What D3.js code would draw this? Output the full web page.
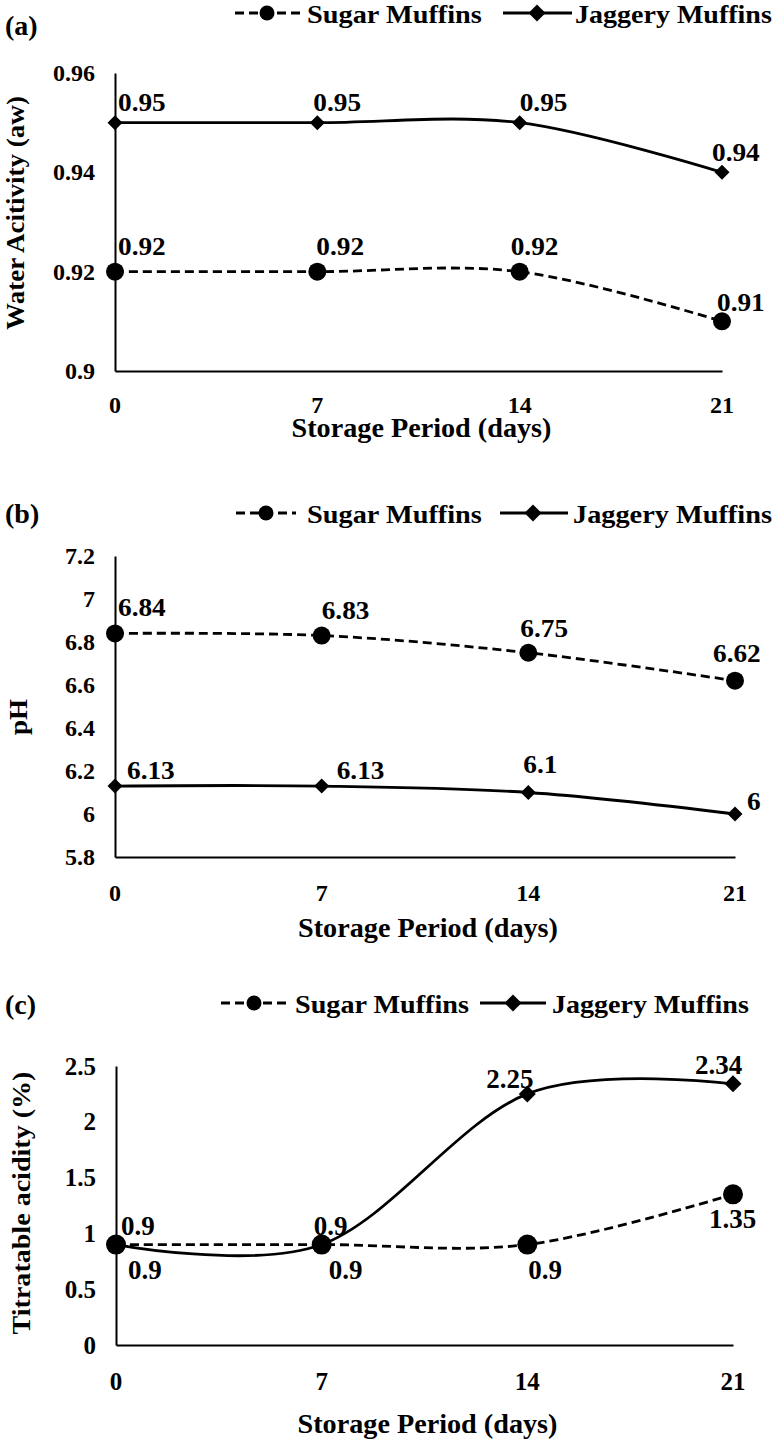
<!DOCTYPE html>
<html><head><meta charset="utf-8">
<script src="https://cdn.jsdelivr.net/npm/d3@7"></script>
<style>body{margin:0;background:#fff}svg{display:block}</style>
</head><body>
<svg id="chart" width="774" height="1440"></svg>
<script>
// ---------- data ----------
const days = [0, 7, 14, 21];
const xTickLabels = ["0", "7", "14", "21"];
const seriesNames = ["Sugar Muffins", "Jaggery Muffins"];
const sugarAw = [0.92, 0.92, 0.92, 0.91];
const jaggeryAw = [0.95, 0.95, 0.95, 0.94];
const awTicks = [0.9, 0.92, 0.94, 0.96];
const sugarPH = [6.84, 6.83, 6.75, 6.62];
const jaggeryPH = [6.13, 6.13, 6.1, 6];
const phTicks = [5.8, 6, 6.2, 6.4, 6.6, 6.8, 7, 7.2];
const sugarTA = [0.9, 0.9, 0.9, 1.35];
const jaggeryTA = [0.9, 0.9, 2.25, 2.34];
const taTicks = [0, 0.5, 1, 1.5, 2, 2.5];
const panelTags = ["(a)", "(b)", "(c)"];
const yTitles = ["Water Acitivity  (aw)", "pH", "Titratable acidity (%)"];
const xTitle = "Storage Period (days)";

// ---------- layout ----------
const panels = [
  { tag: panelTags[0], yTitle: yTitles[0], sugar: sugarAw, jaggery: jaggeryAw, ticks: awTicks,
    x0: 115, x1: 722, yTop: 73, yBot: 371, tagX: 5, tagY: 25,
    leg: { y: 13, d1: 235, d2: 302, c: 267, t1: 307, w1: 175, s1: 503, s2: 572, dm: 537, t2: 575, w2: 197 },
    xLabY: 405, xTitleY: 428, yTitleX: 15, yTitleY: 213, yTitleLen: 234,
    tfs: 24, fs: 26, sx: 1.05, r: 9, dd: 7.5,
    sOff: [[3, -25], [-1, -25], [-9, -25], [-5, -19]],
    jOff: [[3, -20], [-4, -20], [0, -20], [-10, -20]] },
  { tag: panelTags[1], yTitle: yTitles[1], sugar: sugarPH, jaggery: jaggeryPH, ticks: phTicks,
    x0: 115, x1: 735, yTop: 556, yBot: 857, tagX: 5, tagY: 513,
    leg: { y: 513, d1: 236, d2: 296, c: 266, t1: 307, w1: 175, s1: 500, s2: 568, dm: 533, t2: 573, w2: 199 },
    xLabY: 893, xTitleY: 928, yTitleX: 18, yTitleY: 717, yTitleLen: 36,
    tfs: 24, fs: 26, sx: 1.05, r: 9, dd: 7.5,
    sOff: [[3, -26], [0, -25], [-8, -25], [-22, -27]],
    jOff: [[12, -16], [15, -16], [-5, -28], [12, -13]] },
  { tag: panelTags[2], yTitle: yTitles[2], sugar: sugarTA, jaggery: jaggeryTA, ticks: taTicks,
    x0: 116, x1: 733, yTop: 1066, yBot: 1345, tagX: 5, tagY: 1004,
    leg: { y: 1003, d1: 221, d2: 286, c: 254, t1: 295, w1: 174, s1: 480, s2: 546, dm: 513, t2: 552, w2: 197 },
    xLabY: 1381, xTitleY: 1424, yTitleX: 21, yTitleY: 1203, yTitleLen: 263,
    tfs: 25, fs: 27, sx: 1.0, r: 10, dd: 8.5,
    sOff: [[12, 25], [7, 25], [1, 25], [-24, 25]],
    jOff: [[5, -19], [-8, -19], [-41, -15], [-38, -19]] }
];

const svg = d3.select("#chart");
const FONT = "'Liberation Serif','Times New Roman',serif";

function T(g, x, y, s, o) {
  const t = g.append("text")
    .attr("font-family", FONT).attr("font-weight", "bold")
    .attr("font-size", o.size).attr("fill", "#000")
    .attr("text-anchor", o.anchor || "start")
    .attr("dominant-baseline", "central")
    .text(s);
  let sx = o.sx || 1;
  if (o.width) sx = o.width / t.node().getComputedTextLength();
  t.attr("transform", `translate(${x},${y}) rotate(${o.rot || 0}) scale(${sx},1)`);
  return t;
}

function diamond(g, cx, cy, h) {
  g.append("path").attr("d", `M${cx},${cy - h}L${cx + h},${cy}L${cx},${cy + h}L${cx - h},${cy}Z`).attr("fill", "#000");
}

panels.forEach(p => {
  const g = svg.append("g");
  const x = d3.scaleLinear().domain([d3.min(days), d3.max(days)]).range([p.x0, p.x1]);
  const y = d3.scaleLinear().domain([d3.min(p.ticks), d3.max(p.ticks)]).range([p.yBot, p.yTop]);

  // axis lines (no tick marks)
  const yAxis = d3.axisLeft(y).tickValues(p.ticks).tickSize(0).tickFormat(() => "");
  const xAxis = d3.axisBottom(x).tickValues(days).tickSize(0).tickFormat(() => "");
  g.append("g").attr("transform", `translate(${p.x0},0)`).call(yAxis)
    .call(a => a.select(".domain").attr("stroke", "#000").attr("stroke-width", 2));
  g.append("g").attr("transform", `translate(0,${p.yBot})`).call(xAxis)
    .call(a => a.select(".domain").attr("stroke", "#000").attr("stroke-width", 2));

  // tick labels
  p.ticks.forEach(v => T(g, p.x0 - 20, y(v), String(v), { size: p.tfs, anchor: "end", sx: 1.0 }));
  days.forEach((d, i) => T(g, x(d), p.xLabY, xTickLabels[i], { size: p.tfs, anchor: "middle", sx: 1.0 }));

  // titles
  T(g, (p.x0 + p.x1) / 2 + 3, p.xTitleY, xTitle, { size: 27, anchor: "middle", width: 260 });
  T(g, p.yTitleX, p.yTitleY, p.yTitle, { size: 26, anchor: "middle", rot: -90, width: p.yTitleLen });
  T(g, p.tagX, p.tagY, p.tag, { size: 28, anchor: "start", sx: 1.0 });

  // lines
  const line = d3.line().x((d, i) => x(days[i])).y(d => y(d)).curve(d3.curveCardinal.tension(0));
  g.append("path").datum(p.sugar).attr("d", line).attr("fill", "none")
    .attr("stroke", "#000").attr("stroke-width", 2.8).attr("stroke-dasharray", "9,5");
  g.append("path").datum(p.jaggery).attr("d", line).attr("fill", "none")
    .attr("stroke", "#000").attr("stroke-width", 2.8);

  // markers
  p.sugar.forEach((v, i) => g.append("circle").attr("cx", x(days[i])).attr("cy", y(v)).attr("r", p.r).attr("fill", "#000"));
  p.jaggery.forEach((v, i) => diamond(g, x(days[i]), y(v), p.dd));

  // data labels
  p.sugar.forEach((v, i) => T(g, x(days[i]) + p.sOff[i][0], y(v) + p.sOff[i][1], String(v), { size: p.fs, sx: p.sx }));
  p.jaggery.forEach((v, i) => T(g, x(days[i]) + p.jOff[i][0], y(v) + p.jOff[i][1], String(v), { size: p.fs, sx: p.sx }));

  // legend
  const L = p.leg;
  g.append("line").attr("x1", L.d1).attr("x2", L.d2).attr("y1", L.y).attr("y2", L.y)
    .attr("stroke", "#000").attr("stroke-width", 2.8).attr("stroke-dasharray", "9,5");
  g.append("circle").attr("cx", L.c).attr("cy", L.y).attr("r", 7.5).attr("fill", "#000");
  T(g, L.t1, L.y + 1, seriesNames[0], { size: 26, width: L.w1 });
  g.append("line").attr("x1", L.s1).attr("x2", L.s2).attr("y1", L.y).attr("y2", L.y)
    .attr("stroke", "#000").attr("stroke-width", 2.8);
  diamond(g, L.dm, L.y, 8.5);
  T(g, L.t2, L.y + 1, seriesNames[1], { size: 26, width: L.w2 });
});
</script>
</body></html>
